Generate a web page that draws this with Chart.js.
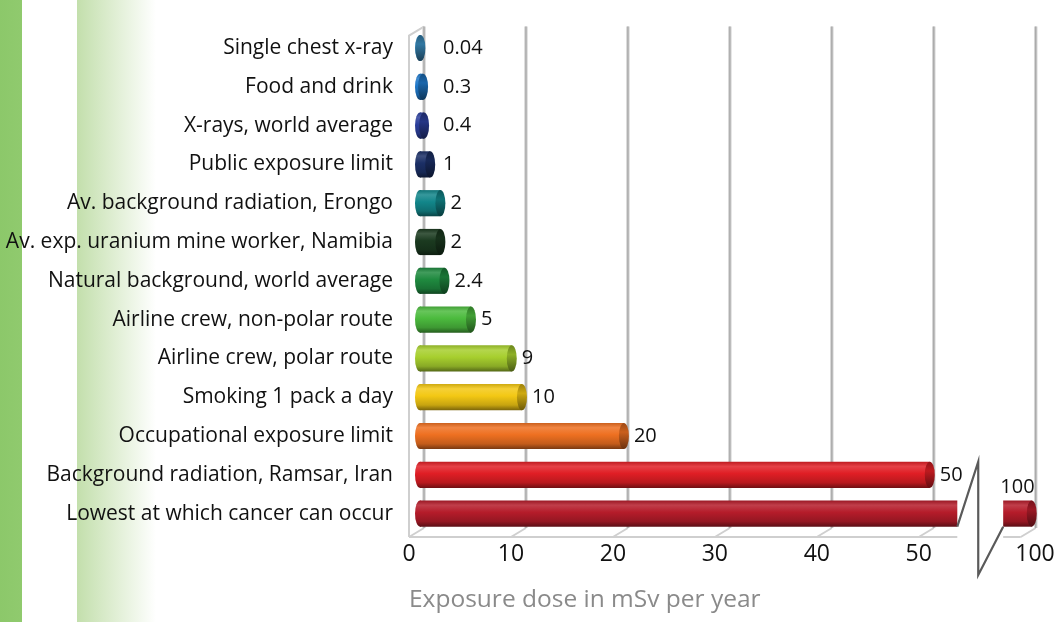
<!DOCTYPE html>
<html>
<head>
<meta charset="utf-8">
<title>Radiation exposure doses</title>
<script src="https://cdn.jsdelivr.net/npm/chart.js@4.4.1/dist/chart.umd.min.js"></script>
<style>
body{margin:0;background:#fff;}
#wrap{
width:1063px;height:622px;
background:linear-gradient(to right,#8cc86a 0,#90ca6e 22px,#fff 22px,#fff 77px,#c3dfac 77px,#fff 156px,#fff 100%);
}
</style>
</head>
<body>
<div id="wrap"><canvas id="doseChart" width="1063" height="622"></canvas></div>
<script>

const labels = [
'Single chest x-ray',
'Food and drink',
'X-rays, world average',
'Public exposure limit',
'Av. background radiation, Erongo',
'Av. exp. uranium mine worker, Namibia',
'Natural background, world average',
'Airline crew, non-polar route',
'Airline crew, polar route',
'Smoking 1 pack a day',
'Occupational exposure limit',
'Background radiation, Ramsar, Iran',
'Lowest at which cancer can occur'
];

const doses = [0.04,0.3,0.4,1,2,2,2.4,5,9,10,20,50,100];

const barColors = [
'#3b8dbf','#1f78c9','#2c3f9c','#1b2f66','#12868a','#1b3a20',
'#1f8a3f','#4cbb3e','#a7cf2e','#f3c814','#ee7021','#e01e25','#b51c2a'
];

const tickValues = [0,10,20,30,40,50,100];

// broken axis: 0-50 is linear, then a gap, and 100 is squeezed in at the end
const BREAK_AT = 50;
const CUT_POS = 52.7;
const RESUME_POS = 57.2;
const TOP_POS = 60;
const TOP_TICK_POS = 61.4;

const BAR_PCT = 0.675;
const BAR_SHIFT = 11;   // bars sit in the middle of the 3d depth
const DEPTH_X = 15;
const DEPTH_Y = 9;

function axisPos(v){
if(v<=BREAK_AT) return v;
return RESUME_POS+(v-BREAK_AT)/(100-BREAK_AT)*(TOP_POS-RESUME_POS);
}

function tickPos(v){
return v<=BREAK_AT ? v : TOP_TICK_POS;
}

function shade(hex,f){
const n=parseInt(hex.slice(1),16);
let c=[(n>>16)&255,(n>>8)&255,n&255];
c=c.map(x=> f>=0 ? Math.round(x+(255-x)*f) : Math.round(x*(1+f)));
return 'rgb('+c.join(',')+')';
}

function barHalf(chart){
const y=chart.scales.y;
return (y.getPixelForValue(1)-y.getPixelForValue(0))*BAR_PCT/2;
}

function bodyFill(ctx){
const chart=ctx.chart;
const base=barColors[ctx.dataIndex];
if(!chart.chartArea || !chart.scales.y) return base;
const yc=chart.scales.y.getPixelForValue(ctx.dataIndex);
const h=barHalf(chart);
const g=chart.ctx.createLinearGradient(0,yc-h,0,yc+h);
g.addColorStop(0,shade(base,-0.15));
g.addColorStop(0.18,shade(base,0.15));
g.addColorStop(0.45,base);
g.addColorStop(0.8,shade(base,-0.18));
g.addColorStop(1,shade(base,-0.5));
return g;
}

function capFill(c,base,yc,h){
const g=c.createLinearGradient(0,yc-h,0,yc+h);
g.addColorStop(0,shade(base,-0.35));
g.addColorStop(0.35,shade(base,-0.15));
g.addColorStop(1,shade(base,-0.55));
return g;
}

const mainData = doses.map(v=> v>BREAK_AT ? CUT_POS : v);
const tailData = doses.map(v=> v>BREAK_AT ? [RESUME_POS,axisPos(v)] : null);

const depthPlugin = {
id:'depth',
beforeDatasetsDraw(chart){
const c=chart.ctx;
const x=chart.scales.x;
const a=chart.chartArea;
const frontY=a.bottom+4;
const backTop=a.top-2;
const backBottom=frontY-DEPTH_Y;

c.save();
c.lineCap='butt';

// floor
c.strokeStyle='#cfcfcf';
c.lineWidth=2;
const x0=x.getPixelForValue(0);
const cutX=x.getPixelForValue(CUT_POS)+BAR_SHIFT;
const resX=x.getPixelForValue(RESUME_POS)+BAR_SHIFT;
const endF=x.getPixelForValue(TOP_POS);
c.beginPath();
c.moveTo(x0,frontY);c.lineTo(cutX,frontY);
c.moveTo(resX,frontY);c.lineTo(endF,frontY);
c.stroke();

const gridPos=tickValues.filter(t=>t<=BREAK_AT).map(t=>x.getPixelForValue(t));
gridPos.push(endF);

c.beginPath();
gridPos.forEach(p=>{
c.moveTo(p,frontY);
c.lineTo(p+DEPTH_X,backBottom);
});
// left wall
c.moveTo(x0,frontY);c.lineTo(x0,backTop+DEPTH_Y);c.lineTo(x0+DEPTH_X,backTop);
c.stroke();

// back grid lines
gridPos.forEach(p=>{
c.strokeStyle='#d6d6d6';
c.lineWidth=3.5;
c.beginPath();c.moveTo(p+DEPTH_X,backTop);c.lineTo(p+DEPTH_X,backBottom);c.stroke();
c.strokeStyle='#ababab';
c.lineWidth=1.5;
c.beginPath();c.moveTo(p+DEPTH_X,backTop);c.lineTo(p+DEPTH_X,backBottom);c.stroke();
});
c.restore();

c.save();
c.translate(BAR_SHIFT,0);
},
afterDatasetsDraw(chart){
const c=chart.ctx;
const h=barHalf(chart);

// cylinder ends
const metaMain=chart.getDatasetMeta(0);
const metaTail=chart.getDatasetMeta(1);
doses.forEach((v,i)=>{
const base=barColors[i];
const m=metaMain.data[i];
c.fillStyle=m.options.backgroundColor;
c.beginPath();
c.ellipse(m.base,m.y,5,h,0,0,Math.PI*2);
c.fill();
const endEl = v>BREAK_AT ? metaTail.data[i] : m;
c.fillStyle=capFill(c,base,endEl.y,h);
c.beginPath();
c.ellipse(endEl.x,endEl.y,5,h,0,0,Math.PI*2);
c.fill();
});
c.restore();

// axis break mark
const x=chart.scales.x;
const y=chart.scales.y;
const a=chart.chartArea;
const row=doses.findIndex(v=>v>BREAK_AT);
if(row>=0){
const cutX=x.getPixelForValue(CUT_POS)+BAR_SHIFT;
const resX=x.getPixelForValue(RESUME_POS)+BAR_SHIFT;
const midX=(cutX+resX)/2-2;
const yb=metaMain.data[row].y+h;
const yt=y.getPixelForValue(row-1)-h;
c.save();
c.strokeStyle='#5a5a5a';
c.lineWidth=2.2;
c.lineJoin='miter';
c.beginPath();
c.moveTo(cutX,yb);c.lineTo(midX,yt);c.lineTo(midX,a.bottom+42);c.lineTo(resX,yb);
c.stroke();
c.restore();
}

// value labels
c.save();
c.font='20px "Open Sans", sans-serif';
c.fillStyle='#111';
c.textBaseline='middle';
const minX=x.getPixelForValue(0)+BAR_SHIFT+23;
doses.forEach((v,i)=>{
if(v>BREAK_AT){
const t=metaTail.data[i];
c.textAlign='center';
c.fillText(String(v),(t.x+t.base)/2+BAR_SHIFT,t.y-h-13);
}else{
const m=metaMain.data[i];
c.textAlign='left';
c.fillText(String(v),Math.max(m.x+BAR_SHIFT+10,minX),m.y);
}
});
c.restore();
}
};

new Chart(document.getElementById('doseChart'),{
type:'bar',
data:{
labels:labels,
datasets:[
{
label:'Dose',
data:mainData,
backgroundColor:bodyFill,
borderWidth:0,
borderRadius:0,
grouped:false,
clip:false,
barPercentage:BAR_PCT,
categoryPercentage:1
},
{
label:'Dose beyond break',
data:tailData,
backgroundColor:bodyFill,
borderWidth:0,
borderRadius:0,
grouped:false,
clip:false,
barPercentage:BAR_PCT,
categoryPercentage:1
}
]
},
options:{
indexAxis:'y',
responsive:false,
animation:false,
layout:{padding:{top:13,right:28,left:0,bottom:0}},
plugins:{
legend:{display:false},
tooltip:{enabled:false}
},
scales:{
y:{
type:'category',
grid:{display:false,drawTicks:false},
border:{display:false},
ticks:{
color:'#111',
padding:16,
font:{family:'"Open Sans", sans-serif',size:21}
},
afterFit(scale){scale.width=409;}
},
x:{
type:'linear',
min:0,
max:TOP_TICK_POS,
grid:{display:false,drawTicks:false},
border:{display:false},
afterBuildTicks(scale){
scale.ticks=tickValues.map(v=>({value:tickPos(v)}));
},
ticks:{
autoSkip:false,
maxRotation:0,
padding:8,
color:'#111',
font:{family:'"Open Sans", sans-serif',size:23},
callback:(value,index)=>String(tickValues[index])
},
title:{
display:true,
text:'Exposure dose in mSv per year',
align:'start',
color:'#8a8a8a',
font:{family:'"Open Sans", sans-serif',size:24.5},
padding:{top:0,bottom:7}
},
afterFit(scale){scale.height=89;}
}
}
},
plugins:[depthPlugin]
});

</script>
</body>
</html>
